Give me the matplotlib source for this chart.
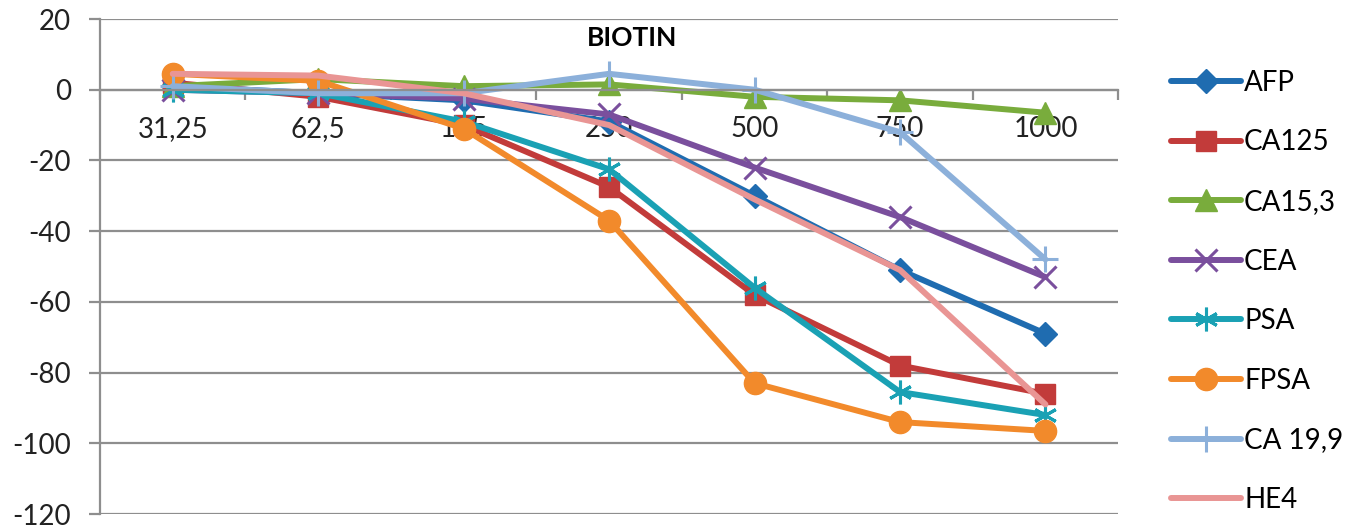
import numpy as np
import matplotlib
matplotlib.use("Agg")
from matplotlib import pyplot as plt
from matplotlib.ticker import FixedLocator

plt.rcParams['font.family'] = ['Lato', 'DejaVu Sans']
plt.rcParams['axes.unicode_minus'] = False

# biotin concentrations (x categories)
doses = ['31,25', '62,5', '125', '250', '500', '750', '1000']

# interference (%) per marker
afp = [1, -1, -3, -9, -30, -51, -69]
ca125 = [2, -2, -10, -27.5, -58, -78, -86]
ca153 = [1, 3, 1, 1.5, -2, -3, -6.5]
cea = [0, -1, -2.5, -7, -22, -36, -53]
psa = [0, -1, -9, -22.5, -56, -85.5, -92]
fpsa = [4.5, 2.5, -11, -37, -83, -94, -96.5]
ca199 = [1, -1, -1, 4.5, 0, -12, -48]
he4 = [4.5, 4, -1, -10, -31, -51, -89]

names = ['AFP', 'CA125', 'CA15,3', 'CEA', 'PSA', 'FPSA', 'CA 19,9', 'HE4']
series = [afp, ca125, ca153, cea, psa, fpsa, ca199, he4]
colors = ['#1f6cb0', '#c23b3a', '#79ac3c', '#7a4f9d', '#1aa1b4', '#f28a2b', '#8cb0da', '#e99594']
markers = ['D', 's', '^', 'x', (6, 2, 0), 'o', '+', None]
msizes = [12, 15, 16, 16, 17, 16, 19, 0]

fig = plt.figure(figsize=(13.57, 5.28), dpi=100)
ax = fig.add_axes([0.0737, 0.0265, 0.7503, 0.9375])

x = np.arange(len(doses))
for vals, name, c, m, ms in zip(series, names, colors, markers, msizes):
    ax.plot(x, vals, color=c, lw=4.3, marker=m, markersize=ms,
            markeredgewidth=2.2 if m in ('x', '+', (6, 2, 0)) else 1,
            markeredgecolor=c, markerfacecolor=c, label=name,
            solid_capstyle='round', solid_joinstyle='round')

ax.set_xlim(-0.5, len(doses) - 0.5)
ax.set_ylim(-120, 20)
ax.set_yticks(np.arange(-120, 21, 20))
ax.yaxis.grid(True, color='#8e8e8e', lw=1.6)
ax.set_axisbelow(True)

# category axis sits on the zero line
ax.spines['bottom'].set_position(('data', 0))
ax.spines['bottom'].set_color('#8e8e8e')
ax.spines['bottom'].set_linewidth(1.6)
ax.spines['left'].set_color('#8e8e8e')
ax.spines['left'].set_linewidth(1.6)
ax.spines['top'].set_visible(False)
ax.spines['right'].set_visible(False)

ax.set_xticks(x)
ax.set_xticklabels(doses)
ax.xaxis.set_minor_locator(FixedLocator(np.arange(-0.5, len(doses), 1.0)))
ax.tick_params(axis='x', which='major', length=0, pad=19, labelsize=20, labelcolor='#222222')
ax.tick_params(axis='x', which='minor', length=7, width=1.6, color='#8e8e8e', direction='out')
ax.tick_params(axis='y', length=8, width=1.6, color='#8e8e8e', labelsize=20, labelcolor='#222222', pad=13)

fig.text(0.466, 0.928, 'BIOTIN', fontsize=19, fontweight='bold', ha='center', va='center')

fig.legend(loc='upper left', bbox_to_anchor=(0.855, 0.889), frameon=False,
           fontsize=20, handlelength=2.5, handletextpad=0.12, labelspacing=1.21,
           borderaxespad=0)

fig.savefig('out.png', dpi=100)
